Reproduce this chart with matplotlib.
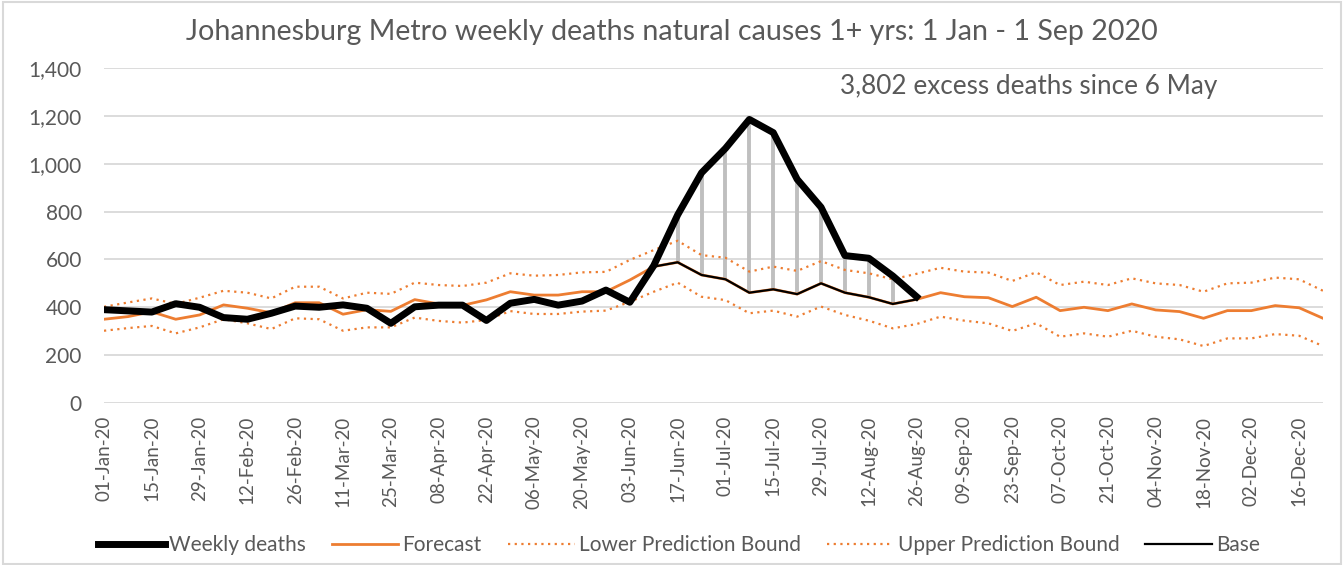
import datetime as dt
import matplotlib
matplotlib.use("Agg")
import matplotlib.pyplot as plt
import numpy as np
from matplotlib.ticker import FuncFormatter, MultipleLocator
from matplotlib.patches import Rectangle

# weekly dates, 01-Jan-20 onwards
start = dt.date(2020, 1, 1)
weeks = [start + dt.timedelta(days=7 * i) for i in range(52)]
week_labels = [d.strftime("%d-%b-%y") for d in weeks]

# observed weekly deaths (1 Jan - 26 Aug)
weekly_deaths = [390, 385, 380, 415, 400, 357, 350, 375, 405, 400, 410, 396, 333, 402,
                 409, 409, 345, 417, 433, 409, 426, 472, 421, 574, 786, 962, 1064, 1185,
                 1130, 935, 818, 616, 605, 531, 444]

forecast = [350, 361, 381, 350, 368, 410, 396, 377, 419, 419, 371, 390, 383, 432,
            414, 408, 431, 465, 451, 451, 465, 465, 514, 570, 588, 535, 517, 461,
            475, 455, 500, 461, 442, 414, 433, 461, 444, 440, 403, 442, 386, 400,
            386, 414, 389, 382, 354, 386, 386, 407, 398, 354]

lower_bound = [302, 313, 322, 291, 316, 350, 333, 309, 354, 350, 302, 316, 316, 357,
               343, 336, 347, 384, 372, 372, 382, 386, 423, 465, 503, 444, 430, 375,
               386, 361, 403, 368, 344, 312, 330, 361, 344, 333, 301, 333, 277, 291,
               277, 302, 277, 266, 238, 270, 270, 288, 281, 238]

upper_bound = [402, 420, 437, 414, 440, 469, 461, 437, 486, 486, 437, 461, 456, 503,
               493, 489, 503, 542, 532, 535, 546, 548, 598, 639, 678, 618, 607, 549,
               570, 552, 593, 556, 542, 517, 540, 565, 549, 545, 510, 546, 493, 507,
               493, 521, 500, 493, 465, 500, 503, 524, 517, 469]

# base used for excess deaths (10-Jun to 26-Aug)
base_start = 23
base = forecast[base_start:35]

grey = "#595959"
orange = "#ED7D31"

fig = plt.figure(figsize=(13.44, 5.65), dpi=100)
ax = fig.add_axes([104 / 1344, 1 - 403 / 565, (1323 - 104) / 1344, (403 - 68) / 565])

x = np.arange(len(weeks))
xd = x[:len(weekly_deaths)]
xb = x[base_start:base_start + len(base)]

# grey drop lines between base and weekly deaths
ax.vlines(xb, base, weekly_deaths[base_start:], color="#BFBFBF", lw=2.8, zorder=2)

ax.plot(x, upper_bound, color=orange, lw=1.6, ls=(0, (1, 2)), zorder=3,
        label="Upper Prediction Bound")
ax.plot(x, lower_bound, color=orange, lw=1.6, ls=(0, (1, 2)), zorder=3,
        label="Lower Prediction Bound")
ax.plot(x, forecast, color=orange, lw=2, zorder=3, label="Forecast")
ax.plot(xb, base, color="black", lw=1.6, zorder=4, label="Base")
ax.plot(xd, weekly_deaths, color="black", lw=5, zorder=5, solid_joinstyle="round",
        label="Weekly deaths")

ax.set_xlim(0, len(weeks) - 1)
ax.set_ylim(0, 1400)
ax.yaxis.set_major_locator(MultipleLocator(200))
ax.yaxis.set_major_formatter(FuncFormatter(lambda v, p: f"{int(v):,}"))
ax.set_xticks(x[::2])
ax.set_xticklabels(week_labels[::2], rotation=90, fontsize=13.5, color=grey,
                   family="Lato")
for lab in ax.get_yticklabels():
    lab.set_family("Lato")
ax.tick_params(axis="y", labelsize=15, labelcolor=grey, length=0, pad=16)
ax.tick_params(axis="x", length=0, pad=9)
ax.grid(axis="y", color="#D9D9D9", lw=1.3)
ax.set_axisbelow(True)
for s in ax.spines.values():
    s.set_visible(False)

fig.text(0.5, 1 - 32 / 565, "Johannesburg Metro weekly deaths natural causes 1+ yrs: 1 Jan - 1 Sep 2020",
         ha="center", va="center", fontsize=20.6, color=grey, family="Lato")
ax.text(0.604, 0.945, "3,802 excess deaths since 6 May", transform=ax.transAxes,
        ha="left", va="center", fontsize=18.8, color=grey, family="Lato")

handles, labels = ax.get_legend_handles_labels()
order = ["Weekly deaths", "Forecast", "Lower Prediction Bound", "Upper Prediction Bound", "Base"]
hmap = dict(zip(labels, handles))
fig.legend([hmap[k] for k in order], order, loc="center", bbox_to_anchor=(679 / 1344, 1 - 545 / 565),
           ncol=5, frameon=False, labelcolor=grey, handlelength=3.2,
           handletextpad=0.2, columnspacing=1.25, prop={"family": "Lato", "size": 15})

fig.patches.append(Rectangle((0.002, 0.002), 0.996, 0.994, transform=fig.transFigure,
                             fill=False, edgecolor="#D9D9D9", lw=1.5))

fig.savefig("out.png", dpi=100)
